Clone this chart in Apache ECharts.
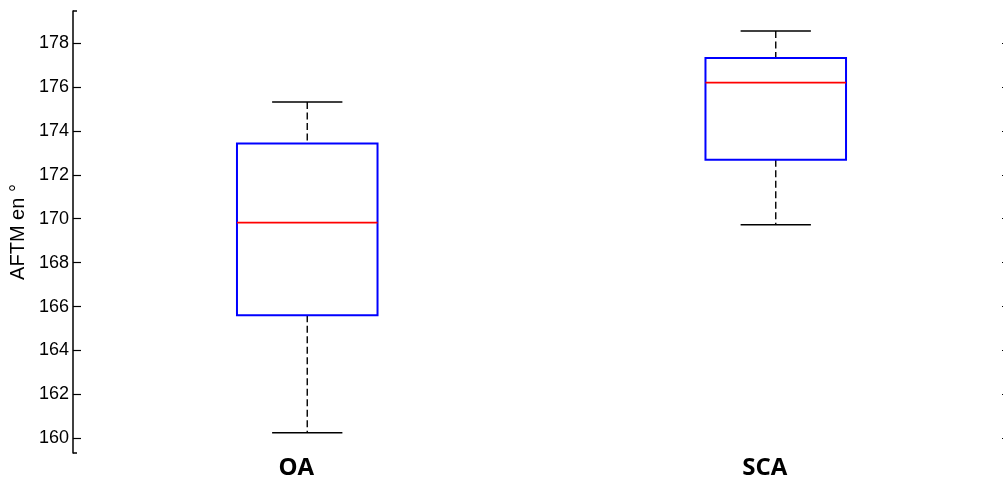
<!DOCTYPE html>
<html>
<head>
<meta charset="utf-8">
<script src="https://cdn.jsdelivr.net/npm/echarts@6/dist/echarts.min.js"></script>
<style>
  html, body { margin: 0; padding: 0; background: #fff; }
  #main { width: 1003px; height: 483px; }
</style>
</head>
<body>
<div id="main"></div>
<script>
var categories = ['OA', 'SCA'];
// [lower whisker, Q1, median, Q3, upper whisker]
var statsOA = [160.25, 165.6, 169.82, 173.42, 175.32];
var statsSCA = [169.73, 172.68, 176.2, 177.32, 178.55];
var yTicks = [160, 162, 164, 166, 168, 170, 172, 174, 176, 178];
var yMin = 159.33, yMax = 179.46;

var boxData = [[0].concat(statsOA), [1].concat(statsSCA)];

var chart = echarts.init(document.getElementById('main'));

function renderBox(params, api) {
    var idx = api.value(0);
    var band = api.size([1, 0])[0];
    var boxW = band * 0.3;
    var capW = boxW / 2;
    var lo = api.coord([idx, api.value(1)]);
    var q1 = api.coord([idx, api.value(2)]);
    var med = api.coord([idx, api.value(3)]);
    var q3 = api.coord([idx, api.value(4)]);
    var hi = api.coord([idx, api.value(5)]);
    var cx = lo[0];
    var dash = { stroke: '#000', lineWidth: 1.4, lineDash: [7, 3.5] };
    var solid = { stroke: '#000', lineWidth: 1.5 };
    return {
        type: 'group',
        children: [
            { type: 'line', shape: { x1: cx, y1: hi[1], x2: cx, y2: q3[1] }, style: dash },
            { type: 'line', shape: { x1: cx, y1: q1[1], x2: cx, y2: lo[1] }, style: dash },
            { type: 'line', shape: { x1: cx - capW / 2, y1: hi[1], x2: cx + capW / 2, y2: hi[1] }, style: solid },
            { type: 'line', shape: { x1: cx - capW / 2, y1: lo[1], x2: cx + capW / 2, y2: lo[1] }, style: solid },
            { type: 'rect', shape: { x: cx - boxW / 2, y: q3[1], width: boxW, height: q1[1] - q3[1] },
              style: { fill: 'none', stroke: '#0000ff', lineWidth: 2 } },
            { type: 'line', shape: { x1: cx - boxW / 2, y1: med[1], x2: cx + boxW / 2, y2: med[1] },
              style: { stroke: '#ff0000', lineWidth: 1.6 } }
        ]
    };
}

// small hooks at both ends of the left axis
function renderHook(params, api) {
    var p = api.coord([0, api.value(1)]);
    var x0 = params.coordSys.x;
    return {
        type: 'line',
        shape: { x1: x0, y1: p[1], x2: x0 + 4, y2: p[1] },
        style: { stroke: '#000', lineWidth: 1.5 }
    };
}

var option = {
    animation: false,
    backgroundColor: '#fff',
    grid: { left: 73, top: 11, width: 937, bottom: 30, outerBoundsMode: 'none', containLabel: false },
    xAxis: {
        type: 'category',
        data: categories,
        boundaryGap: true,
        axisLine: { show: false },
        axisTick: { show: false },
        axisLabel: {
            color: '#000',
            fontFamily: 'Open Sans',
            fontWeight: 'bold',
            fontSize: 24,
            margin: 3,
            padding: [0, 22, 0, 0]
        }
    },
    yAxis: [{
        type: 'value',
        min: yMin,
        max: yMax,
        position: 'left',
        name: 'AFTM en \u00b0',
        nameLocation: 'middle',
        nameGap: 43,
        nameTextStyle: { color: '#000', fontFamily: 'Liberation Sans', fontSize: 20 },
        axisLine: { show: true, lineStyle: { color: '#000', width: 1.5 } },
        axisTick: { show: true, inside: true, length: 8, customValues: yTicks, lineStyle: { color: '#000', width: 1.2 } },
        axisLabel: { color: '#000', fontFamily: 'Liberation Sans', fontSize: 18, margin: 4, customValues: yTicks },
        splitLine: { show: false }
    }, {
        type: 'value',
        min: yMin,
        max: yMax,
        position: 'right',
        axisLine: { show: false },
        axisTick: { show: true, inside: true, length: 8, customValues: yTicks, lineStyle: { color: '#000', width: 1.2 } },
        axisLabel: { show: false },
        splitLine: { show: false }
    }],
    series: [{
        type: 'custom',
        renderItem: renderBox,
        encode: { x: 0, y: [1, 2, 3, 4, 5] },
        data: boxData
    }, {
        type: 'custom',
        renderItem: renderHook,
        encode: { x: 0, y: 1 },
        data: [[0, yMin], [0, yMax]]
    }]
};
chart.setOption(option);
</script>
</body>
</html>
